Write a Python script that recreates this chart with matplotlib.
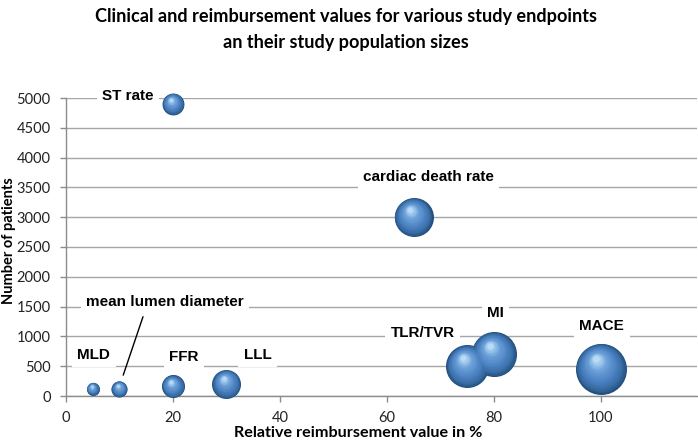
import numpy as np
import matplotlib
matplotlib.use("Agg")
import matplotlib.pyplot as plt
from matplotlib.colors import LinearSegmentedColormap
from matplotlib.transforms import ScaledTranslation

# ---- data ----
endpoints = ["MLD", "mean lumen diameter", "FFR", "LLL", "ST rate",
             "cardiac death rate", "TLR/TVR", "MI", "MACE"]
reimbursement = [5, 10, 20, 30, 20, 65, 75, 80, 100]
patients = [120, 120, 160, 200, 4900, 3000, 500, 700, 460]
bubble_size = [1.7, 2.6, 5.3, 8.4, 4.8, 15.2, 18.5, 20.3, 26.0]
label_x = [5.2, 18.5, 22.0, 35.8, 11.6, 67.8, 66.7, 80.3, 100.2]
label_y = [690, 1580, 655, 690, 5030, 3670, 1060, 1395, 1175]
x_ticks = [0, 20, 40, 60, 80, 100]
y_ticks = list(range(0, 5001, 500))

fig = plt.figure(figsize=(6.98, 4.47), dpi=100)
ax = fig.add_axes([66/698, 51/447, 631/698, 298/447])
ax.set_xlim(0, 118)
ax.set_ylim(0, 5000)

grid_c = "#a6a6a6"
ax.set_yticks(y_ticks)
ax.set_xticks(x_ticks)
ax.yaxis.grid(True, color=grid_c, lw=1.0, zorder=0)
ax.set_axisbelow(True)
for s in ["top", "right"]:
    ax.spines[s].set_visible(False)
for s in ["left", "bottom"]:
    ax.spines[s].set_color("#8c8c8c")
    ax.spines[s].set_linewidth(1.0)
ax.tick_params(axis="both", direction="out", length=4.5, width=1.0,
               color="#8c8c8c", labelsize=10.5, labelcolor="#222222")
ax.tick_params(axis="y", pad=6.5)
ax.tick_params(axis="x", pad=6.0)
for lab in ax.get_xticklabels() + ax.get_yticklabels():
    lab.set_fontfamily("Lato")

# ---- spheres ----
cmap = LinearSegmentedColormap.from_list(
    "sph", [(0, "#24507f"), (0.12, "#35699f"), (0.35, "#4a80c0"),
            (0.7, "#6a9fd8"), (1, "#b8dbf7")])
N = 22
for xi, yi, bs in zip(reimbursement, patients, bubble_size):
    d_pt = np.sqrt(bs * 100) * 0.72
    for k in range(N):
        t = k / (N - 1)
        f = 1 - 0.88 * t
        dx = -(1 - f) * 0.10 * d_pt / 72
        dy = (1 - f) * 0.22 * d_pt / 72
        tr = ax.transData + ScaledTranslation(dx, dy, fig.dpi_scale_trans)
        ax.scatter([xi], [yi], s=(d_pt * f) ** 2, color=cmap(t),
                   transform=tr, linewidths=0, zorder=3 + k * 0.01,
                   clip_on=False)

# ---- labels ----
for name, lx, ly in zip(endpoints, label_x, label_y):
    ax.text(lx, ly, name, ha="center", va="center", fontsize=11,
            fontweight="bold", family="Liberation Sans", color="black",
            bbox=dict(boxstyle="square,pad=0.35", fc="white", ec="none"),
            zorder=5)
ax.annotate("", xy=(10.7, 350), xytext=(14.4, 1330),
            arrowprops=dict(arrowstyle="-", color="black", lw=1.0,
                            shrinkA=0, shrinkB=0), zorder=6)

# ---- titles ----
fig.text(0.496, 0.962, "Clinical and reimbursement values for various study endpoints",
         ha="center", va="center", fontsize=13.1, fontweight="bold", family="Lato")
fig.text(0.496, 0.906, "an their study population sizes",
         ha="center", va="center", fontsize=13.1, fontweight="bold", family="Lato")
fig.text(358/698, 1 - 433/447, "Relative reimbursement value in %",
         ha="center", va="center", fontsize=11.6, fontweight="bold", family="Lato")
fig.text(9/698, 1 - 241/447, "Number of patients", rotation=90,
         ha="center", va="center", fontsize=10.5, fontweight="bold", family="Lato")

fig.savefig("out.png", dpi=100)
